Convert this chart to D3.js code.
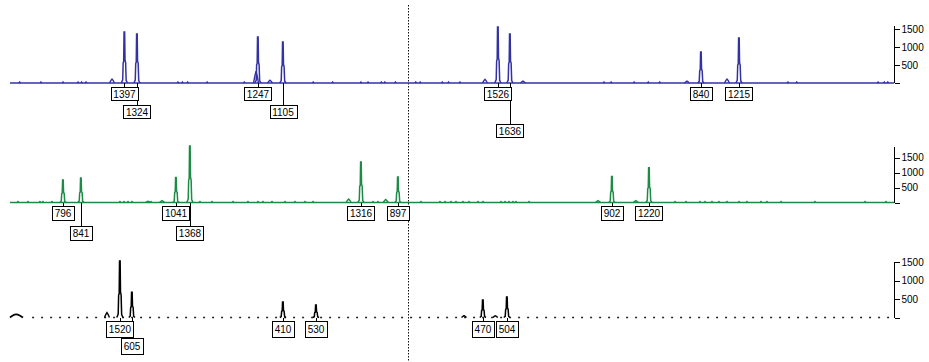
<!DOCTYPE html>
<html><head><meta charset="utf-8">
<script src="https://cdn.jsdelivr.net/npm/d3@7"></script>
<style>body{margin:0;background:#fff}svg{display:block}</style>
</head><body>
<svg id="c" width="929" height="362"></svg>
<script>
// ---------- DATA ----------
const xDomain = [0, 1000];
const markerPos = 450;
const axisTicks = [0, 500, 1000, 1500];

// Blue channel
const bluePeakPos    = [129.5, 143.7, 280.5, 308.8, 552.0, 565.6, 781.7, 824.7];
const bluePeakHeight = [1417, 1361, 1278, 1139, 1556, 1361, 861, 1250];
const bluePeakLabel  = ["1397", "1324", "1247", "1105", "1526", "1636", "840", "1215"];
const bluePeakRow    = [0, 1, 0, 1, 0, 2, 0, 0];
const blueBumpPos    = [115.4, 278.3, 294.1, 537.3, 580.3, 765.8, 811.1];
const blueBumpHeight = [110, 330, 80, 100, 55, 55, 110];
const blueSpecks     = [11, 35, 60, 77, 81, 86, 190, 195, 201, 223, 265, 343, 365, 397, 405, 420, 424, 436, 459, 464, 489, 496, 509, 672, 680, 706, 722, 735, 880, 890, 982, 989, 993];

// Green channel
const greenPeakPos    = [60.0, 80.3, 187.8, 203.6, 397.1, 438.9, 681.0, 722.9];
const greenPeakHeight = [750, 817, 840, 1893, 1354, 850, 867, 1163];
const greenPeakLabel  = ["796", "841", "1041", "1368", "1316", "897", "902", "1220"];
const greenPeakRow    = [0, 1, 0, 1, 0, 0, 0, 0];
const greenBumpPos    = [156.1, 172.0, 383.1, 425.0, 665.2, 708.0];
const greenBumpHeight = [45, 67, 118, 100, 67, 67];
const greenSpecks     = [9, 20.4, 33.9, 37.3, 47.5, 124.4, 129, 133.5, 138, 159.5, 214.9, 228.5, 252.3, 269.2, 280.5, 286.2, 296.4, 311.1, 322.4, 333.7, 342.8, 410.6, 416.3, 464.9, 486.4, 492.1, 498.9, 504.5, 512.4, 519.2, 529.4, 535.1, 555.4, 560, 564.5, 569, 572.4, 587.1, 752.3, 764.7, 780.5, 786.2, 794.1, 802, 811.1, 824.7, 833.7, 849.5, 856.3, 872.2, 910.6, 967.2, 990.9];

// Black channel
const blackPeakPos    = [124.4, 138.0, 308.8, 346.2, 535.0, 562.2];
const blackPeakHeight = [1537, 685, 422, 340, 476, 558];
const blackPeakLabel  = ["1520", "605", "410", "530", "470", "504"];
const blackPeakRow    = [0, 1, 0, 0, 0, 0];
const blackBumpPos    = [109.7, 513.6, 549.0];
const blackBumpHeight = [135, 50, 45];
const blackStartPos   = [0, 3, 7, 11, 14.7];
const blackStartVal   = [0, 60, 95, 60, 0];
const blackBaselineFrom = 25;

// ---------- LAYOUT ----------
const W = 929, H = 362;
const svg = d3.select("#c");
const x = d3.scaleLinear().domain(xDomain).range([10, 894]);

const panels = [
  {color: "#3232a2", base: 83, y1500: 29, axisTop: 1583, gap: 4, step: 18.3, boxH: 13,
   peaks: bluePeakPos.map((p, i) => ({p, h: bluePeakHeight[i], label: bluePeakLabel[i], row: bluePeakRow[i]})),
   bumps: blueBumpPos.map((p, i) => ({p, h: blueBumpHeight[i]})), specks: blueSpecks, dashed: false},
  {color: "#1d8a45", base: 202.5, y1500: 157.7, axisTop: 1858, gap: 3, step: 20, boxH: 13.5,
   peaks: greenPeakPos.map((p, i) => ({p, h: greenPeakHeight[i], label: greenPeakLabel[i], row: greenPeakRow[i]})),
   bumps: greenBumpPos.map((p, i) => ({p, h: greenBumpHeight[i]})), specks: greenSpecks, dashed: false},
  {color: "#000000", base: 317.5, y1500: 262.3, axisTop: 1510, gap: 3.5, step: 17, boxH: 16,
   peaks: blackPeakPos.map((p, i) => ({p, h: blackPeakHeight[i], label: blackPeakLabel[i], row: blackPeakRow[i]})),
   bumps: blackBumpPos.map((p, i) => ({p, h: blackBumpHeight[i]})), specks: [], dashed: true}
];

const peakShape = [[-3.6,0],[-2.0,0.06],[-1.5,0.4],[-0.9,0.42],[-0.5,1],[0.2,1],[0.6,0.45],[1.3,0.4],[1.9,0.05],[3.4,0]];
const bumpShape = [[-2.8,0],[-1.2,0.65],[0,1],[1.2,0.65],[2.8,0]];
const speckShape = [[-0.9,0],[0,1],[0.9,0]];
const speckLevel = 32;

// marker line
svg.append("line")
  .attr("x1", Math.round(x(markerPos)) + 0.5).attr("x2", Math.round(x(markerPos)) + 0.5)
  .attr("y1", 5).attr("y2", H)
  .attr("stroke", "#111").attr("stroke-width", 1).attr("stroke-dasharray", "1.5,1.5");

panels.forEach(pn => {
  const y = d3.scaleLinear().domain([0, 1500]).range([pn.base, pn.y1500]);
  const g = svg.append("g");
  const line = d3.line().x(d => x(d[0])).y(d => y(d[1]));

  // baseline
  if (pn.dashed) {
    g.append("path").attr("d", line([[blackBaselineFrom, 0], [xDomain[1], 0]]))
      .attr("stroke", "#222").attr("stroke-width", 1.4).attr("fill", "none")
      .attr("stroke-dasharray", "2,7");
    g.append("path").attr("d", d3.line().x(d => x(d[0])).y(d => y(d[1])).curve(d3.curveBasis)(blackStartPos.map((p, i) => [p, blackStartVal[i]])))
      .attr("stroke", "#000").attr("stroke-width", 1.8).attr("fill", "none");
  } else {
    g.append("path").attr("d", line([[xDomain[0], 0], [xDomain[1], 0]]))
      .attr("stroke", pn.color).attr("stroke-width", 1.4).attr("fill", "none");
  }
  // specks
  pn.specks.forEach(s => {
    g.append("path").attr("d", line(speckShape.map(([dx, f]) => [s + dx, f * speckLevel])))
      .attr("stroke", pn.color).attr("stroke-width", 1.3).attr("fill", "none");
  });
  // bumps
  pn.bumps.forEach(b => {
    g.append("path").attr("d", line(bumpShape.map(([dx, f]) => [b.p + dx, f * b.h])))
      .attr("stroke", pn.color).attr("stroke-width", 1.4).attr("fill", "none");
  });
  // peaks
  pn.peaks.forEach(pk => {
    g.append("path").attr("d", line(peakShape.map(([dx, f]) => [pk.p + dx, f * pk.h])))
      .attr("stroke", pn.color).attr("stroke-width", 1.5).attr("fill", "none")
      .attr("stroke-linejoin", "miter");
  });

  // connectors
  pn.peaks.forEach(pk => {
    const px = Math.round(x(pk.p)) + 0.5;
    const top = pn.base + pn.gap + pk.row * pn.step;
    g.append("line").attr("x1", px).attr("x2", px).attr("y1", pn.base).attr("y2", top)
      .attr("stroke", "#000").attr("stroke-width", 1).attr("shape-rendering", "crispEdges");
  });
  // label boxes
  pn.peaks.forEach(pk => {
    const cx = x(pk.p);
    const top = Math.round(pn.base + pn.gap + pk.row * pn.step) + 0.5;
    const lg = g.append("g");
    const rect = lg.append("rect").attr("fill", "#fff").attr("stroke", "#000").attr("stroke-width", 1)
      .attr("shape-rendering", "crispEdges");
    const t = lg.append("text").attr("x", cx).attr("y", top + pn.boxH / 2 + 3.6)
      .attr("text-anchor", "middle").attr("font-family", "Liberation Sans, Arial, sans-serif")
      .attr("font-size", 10).attr("fill", "#000").text(pk.label);
    const w = t.node().getComputedTextLength() + 5;
    rect.attr("x", Math.round(cx - w / 2) + 0.5).attr("y", top).attr("width", Math.round(w)).attr("height", Math.round(pn.boxH));
  });

  // axis
  const ax = g.append("g").attr("transform", `translate(${Math.round(x(xDomain[1])) + 0.5},0)`)
    .call(d3.axisRight(y).tickValues(axisTicks).tickSize(5).tickPadding(2)
      .tickFormat(d => d === 0 ? "" : String(d)));
  ax.select(".domain").remove();
  ax.selectAll("line").attr("stroke", "#000").attr("shape-rendering", "crispEdges");
  ax.selectAll("text").attr("font-family", "Liberation Sans, Arial, sans-serif").attr("font-size", 10).attr("fill", "#000");
  ax.append("line").attr("x1", 0).attr("x2", 0).attr("y1", y(0)).attr("y2", y(pn.axisTop))
    .attr("stroke", "#000").attr("stroke-width", 1.3).attr("shape-rendering", "crispEdges");
});
</script>
</body></html>
